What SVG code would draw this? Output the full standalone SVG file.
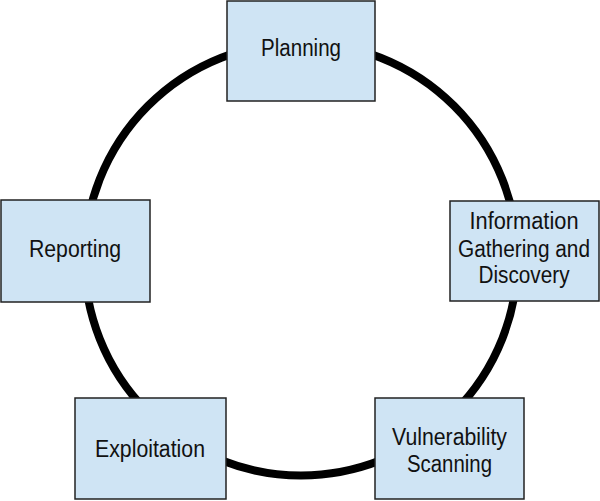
<svg xmlns="http://www.w3.org/2000/svg" width="600" height="501" viewBox="0 0 600 501">
<style>
.box{fill:#cfe4f4;stroke:#222;stroke-width:1.5}
.lbl{font-family:"Liberation Sans",Arial,sans-serif;font-size:23px;fill:#111;text-anchor:middle}
</style>
<rect width="600" height="501" fill="#fff"/>
<g id="connectors">
<circle cx="301" cy="259" r="216.5" fill="none" stroke="#000" stroke-width="8"/>
</g>
<g id="planning">
<rect class="box" x="227" y="1" width="148" height="100"/>
<text class="lbl" x="301" y="56" textLength="80" lengthAdjust="spacingAndGlyphs">Planning</text>
</g>
<g id="reporting">
<rect class="box" x="1" y="200" width="149" height="102"/>
<text class="lbl" x="75" y="257" textLength="92" lengthAdjust="spacingAndGlyphs">Reporting</text>
</g>
<g id="info">
<rect class="box" x="450" y="201" width="149" height="100"/>
<text class="lbl" x="524" y="229" textLength="109" lengthAdjust="spacingAndGlyphs">Information</text>
<text class="lbl" x="524" y="256.5" textLength="132" lengthAdjust="spacingAndGlyphs">Gathering and</text>
<text class="lbl" x="524" y="283" textLength="91" lengthAdjust="spacingAndGlyphs">Discovery</text>
</g>
<g id="exploitation">
<rect class="box" x="75" y="398" width="151" height="101"/>
<text class="lbl" x="150" y="457" textLength="110" lengthAdjust="spacingAndGlyphs">Exploitation</text>
</g>
<g id="vulnerability">
<rect class="box" x="375" y="398" width="149" height="101"/>
<text class="lbl" x="449.5" y="445" textLength="115" lengthAdjust="spacingAndGlyphs">Vulnerability</text>
<text class="lbl" x="449.5" y="472" textLength="85" lengthAdjust="spacingAndGlyphs">Scanning</text>
</g>
</svg>
